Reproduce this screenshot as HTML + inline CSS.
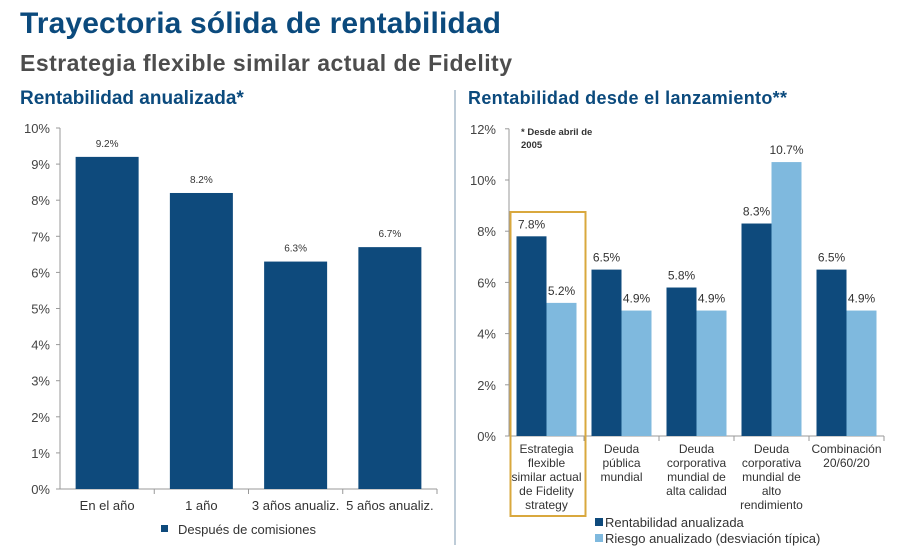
<!DOCTYPE html>
<html><head><meta charset="utf-8"><style>
body{margin:0;background:#fff;font-family:"Liberation Sans",sans-serif}
svg text{font-family:"Liberation Sans",sans-serif}
</style></head><body>
<svg width="918" height="550" viewBox="0 0 918 550">
<text x="20" y="33" font-size="30" font-weight="bold" fill="#0b4a7d" textLength="481">Trayectoria sólida de rentabilidad</text>
<text x="20" y="71" font-size="23" font-weight="bold" fill="#4d4d4d" textLength="492">Estrategia flexible similar actual de Fidelity</text>
<text x="20" y="104" font-size="19" font-weight="bold" fill="#0b4a7d">Rentabilidad anualizada*</text>
<text x="468" y="104" font-size="18" font-weight="bold" fill="#0b4a7d" textLength="319">Rentabilidad desde el lanzamiento**</text>
<line x1="455" y1="90" x2="455" y2="545" stroke="#a9bccb" stroke-width="1.5"/>
<g id="left"></g>
<g id="right"></g>
<text x="521" y="135" font-size="9.5" font-weight="bold" fill="#333"><tspan x="521">* Desde abril de</tspan><tspan x="521" dy="13">2005</tspan></text>
<rect x="510.5" y="212" width="75" height="304" fill="none" stroke="#d9a83e" stroke-width="2"/>
<rect x="161" y="525" width="7" height="7" fill="#0e4a7c"/>
<text x="178" y="534" font-size="13" fill="#333">Después de comisiones</text>
<rect x="595" y="518" width="8" height="8" fill="#0e4a7c"/>
<text x="605" y="527" font-size="13" fill="#333">Rentabilidad anualizada</text>
<rect x="595" y="534" width="8" height="8" fill="#7fb9de"/>
<text x="605" y="543" font-size="13" fill="#333">Riesgo anualizado (desviación típica)</text>
</svg>
<script>
const leftCats=["En el año","1 año","3 años anualiz.","5 años anualiz."];
const leftVals=[9.2,8.2,6.3,6.7];
const leftTicks=[0,1,2,3,4,5,6,7,8,9,10];
const rightCats=[["Estrategia","flexible","similar actual","de Fidelity","strategy"],["Deuda","pública","mundial"],["Deuda","corporativa","mundial de","alta calidad"],["Deuda","corporativa","mundial de","alto","rendimiento"],["Combinación","20/60/20"]];
const rightReturn=[7.8,6.5,5.8,8.3,6.5];
const rightRisk=[5.2,4.9,4.9,10.7,4.9];
const rightTicks=[0,2,4,6,8,10,12];
const NS="http://www.w3.org/2000/svg";
function mk(parent,tag,attrs,txt){const e=document.createElementNS(NS,tag);for(const k in attrs)e.setAttribute(k,attrs[k]);if(txt!==undefined)e.textContent=txt;parent.appendChild(e);return e;}
const L=document.getElementById('left');
const ly=v=>489-v*36.1, lx0=60, lcw=94.25;
leftTicks.forEach(t=>{const tx=mk(L,'text',{x:50,y:ly(t)+5,'font-size':13,fill:'#444','text-anchor':'end'},t+'%');


mk(L,'line',{x1:56,x2:60,y1:ly(t),y2:ly(t),stroke:'#999'});});
mk(L,'line',{x1:60,x2:60,y1:ly(10),y2:489,stroke:'#999'});
mk(L,'line',{x1:60,x2:437,y1:489,y2:489,stroke:'#999'});
leftCats.forEach((c,i)=>{const cx=lx0+lcw*(i+0.5);
const b=mk(L,'rect',{x:cx-31.5,y:ly(leftVals[i]),width:63,height:489-ly(leftVals[i]),fill:'#0e4a7c'});


const v=mk(L,'text',{x:cx,y:ly(leftVals[i])-10,'font-size':10,fill:'#333','text-anchor':'middle'},leftVals[i].toFixed(1)+'%');


const l=mk(L,'text',{x:cx,y:510,'font-size':13,fill:'#333','text-anchor':'middle'},c);


mk(L,'line',{x1:lx0+lcw*(i+1),x2:lx0+lcw*(i+1),y1:489,y2:494,stroke:'#999'});});
const R=document.getElementById('right');
const ry=v=>436-v*25.6, rx0=509, rcw=75;
rightTicks.forEach(t=>{const tx=mk(R,'text',{x:496,y:ry(t)+5,'font-size':13,fill:'#444','text-anchor':'end'},t+'%');


mk(R,'line',{x1:505,x2:509,y1:ry(t),y2:ry(t),stroke:'#999'});});
mk(R,'line',{x1:509,x2:509,y1:ry(12),y2:436,stroke:'#999'});
mk(R,'line',{x1:509,x2:884,y1:436,y2:436,stroke:'#999'});
rightCats.forEach((c,i)=>{const cx=rx0+rcw*(i+0.5);
const a=mk(R,'rect',{x:cx-30,y:ry(rightReturn[i]),width:30,height:436-ry(rightReturn[i]),fill:'#0e4a7c'});


const b=mk(R,'rect',{x:cx,y:ry(rightRisk[i]),width:30,height:436-ry(rightRisk[i]),fill:'#7fb9de'});


const va=mk(R,'text',{x:cx-15,y:ry(rightReturn[i])-8,'font-size':12,fill:'#333','text-anchor':'middle'},rightReturn[i].toFixed(1)+'%');


const vb=mk(R,'text',{x:cx+15,y:ry(rightRisk[i])-8,'font-size':12,fill:'#333','text-anchor':'middle'},rightRisk[i].toFixed(1)+'%');


const l=mk(R,'text',{x:cx,y:453,'font-size':12,fill:'#333','text-anchor':'middle'});


c.forEach((ln,j)=>mk(l,'tspan',{x:cx,dy:j?14:0},ln));
mk(R,'line',{x1:rx0+rcw*(i+1),x2:rx0+rcw*(i+1),y1:436,y2:441,stroke:'#999'});});
</script>
</body></html>
